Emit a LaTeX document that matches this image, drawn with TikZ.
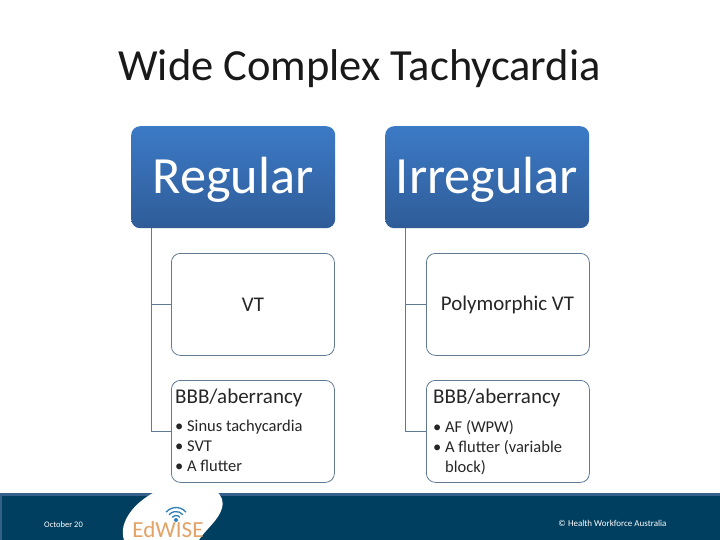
\documentclass[tikz,border=0pt]{standalone}
\usepackage{fontspec}
\setmainfont{Carlito}
\usetikzlibrary{calc}
\definecolor{headtop}{HTML}{3C7AC6}
\definecolor{headbot}{HTML}{2F5C98}
\definecolor{edgecol}{HTML}{5F7A92}
\definecolor{band}{HTML}{003F5F}
\definecolor{bandedge}{HTML}{35608A}
\definecolor{logoorange}{HTML}{E3A267}
\definecolor{logoblue}{HTML}{2F7FB8}
\tikzset{
  x=1pt,y=-1pt,
  headbox/.style={rounded corners=9pt,top color=headtop,bottom color=headbot,draw=none,minimum width=204pt,minimum height=102pt,inner sep=0pt,anchor=north west},
  headtext/.style={inner sep=0pt,text=white,font=\fontsize{52.3}{55}\selectfont},
  childbox/.style={rounded corners=9pt,draw=edgecol,line width=0.8pt,fill=white,anchor=north west,inner sep=0pt,minimum width=163pt,minimum height=102pt},
  conn/.style={draw=edgecol,line width=0.8pt},
  bodytext/.style={anchor=north west,inner sep=0pt,align=left,text=black!85,font=\fontsize{16.5}{20}\selectfont},
  subtext/.style={anchor=north west,inner sep=0pt,text=black!85,font=\fontsize{21}{24}\selectfont},
  midtext/.style={inner sep=0pt,text=black!85,font=\fontsize{20.9}{24}\selectfont},
  foot/.style={inner sep=0pt,text=white,font=\fontsize{9}{10}\selectfont},
}
\begin{document}
\begin{tikzpicture}
\useasboundingbox (0,0) rectangle (720,540);
\fill[white] (0,0) rectangle (720,540);
% footer
\fill[band] (0,493) rectangle (720,540);
\fill[bandedge] (0,493) rectangle (720,496);
\fill[bandedge] (0,493) rectangle (2,540);
\fill[white] (124,540) .. controls (118,522) and (135,502) .. (155,492) -- (215,491) .. controls (222,494) and (224,503) .. (222,508) .. controls (219,520) and (205,530) .. (199,540) -- cycle;
\node[foot,font=\fontsize{8.5}{10}\selectfont] (date) at (63.5,524.5) {October 20};
\node[foot] (copy) at (612.5,523.5) {© Health Workforce Australia};
\node[inner sep=0pt,text=logoorange,font=\fontsize{23}{24}\selectfont,anchor=base] (logo) at (168,537) {EdWISE};
\foreach \r in {5,9,13}{\draw[logoblue,line width=1.3pt] ($(176,520.5)+(40:\r pt)$) arc[start angle=40,end angle=140,radius=\r pt];}
\fill[logoblue] (176,520) circle (2pt);
% title
\node[inner sep=0pt,font=\fontsize{44.5}{47}\selectfont,text=black!90] (title) at (359.5,68.5) {Wide Complex Tachycardia};
% heads
\node[headbox] (reg) at (131,126) {};
\node[headtext] (regt) at (233,180) {Regular};
\node[headbox] (irr) at (385,126) {};
\node[headtext] (irrt) at (487,180) {Irregular};
% children
\node[childbox] (vt) at (171,253) {};
\node[midtext] (vtt) at (253,305) {VT};
\node[childbox] (pvt) at (426,253) {};
\node[midtext] (pvtt) at (507.5,305) {Polymorphic VT};
\node[childbox] (bbb) at (171,380) {};
\node[subtext] (bbbh) at (175,388.5) {BBB/aberrancy};
\node[bodytext] (bbbl) at (175,420) {• Sinus tachycardia\\• SVT\\• A flutter};
\node[childbox] (bbr) at (426,380) {};
\node[subtext] (bbrh) at (433,388.5) {BBB/aberrancy};
\node[bodytext] (bbrl) at (433,420) {• AF (WPW)\\• A flutter (variable\\\hphantom{• }block)};
% connectors
\coordinate (ra) at ($(reg.south west)+(20,0)$);
\coordinate (ia) at ($(irr.south west)+(20,0)$);
\draw[conn] (ra) |- (vt.west);
\draw[conn] (ra) |- (bbb.west);
\draw[conn] (ia) |- (pvt.west);
\draw[conn] (ia) |- (bbr.west);
\end{tikzpicture}
\end{document}
